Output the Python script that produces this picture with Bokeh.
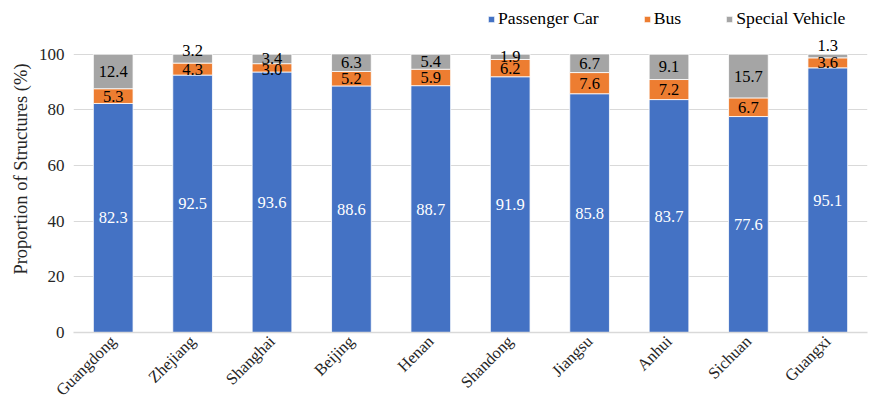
from math import pi
from bokeh.plotting import figure
from bokeh.models import ColumnDataSource, Range1d, FixedTicker, Legend, LegendItem, LabelSet
from bokeh.embed import file_html
from bokeh.resources import INLINE

provinces = ["Guangdong", "Zhejiang", "Shanghai", "Beijing", "Henan",
             "Shandong", "Jiangsu", "Anhui", "Sichuan", "Guangxi"]
passenger = [82.3, 92.5, 93.6, 88.6, 88.7, 91.9, 85.8, 83.7, 77.6, 95.1]
bus = [5.3, 4.3, 3.0, 5.2, 5.9, 6.2, 7.6, 7.2, 6.7, 3.6]
special = [12.4, 3.2, 3.4, 6.3, 5.4, 1.9, 6.7, 9.1, 15.7, 1.3]
series_names = ["Passenger Car", "Bus", "Special Vehicle"]
y_ticks = [0, 20, 40, 60, 80, 100]

colors = ["#4472C4", "#ED7D31", "#A5A5A5"]
label_colors = ["white", "black", "black"]
# manual nudges (pixels) of the small top labels, as in the original
special_label_nudge = [0, 8, 0, 0, 0, 0, 0, 0, 0, 11]
bus_label_nudge = [0, 0, -2, 0, 0, 0, 0, 0, 0, 0]

FONT = "Times"

p = figure(x_range=provinces, width=869, height=409,
           output_backend="svg", toolbar_location=None,
           min_border_left=73, min_border_right=2, min_border_top=5,
           min_border_bottom=76)
p.y_range = Range1d(0, 117.5)
p.outline_line_color = None
p.background_fill_color = "white"
p.border_fill_color = "white"

src = ColumnDataSource(dict(x=provinces, passenger=passenger, bus=bus, special=special))
rends = p.vbar_stack(["passenger", "bus", "special"], x="x", width=0.5,
                     source=src, color=colors, line_color="white", line_width=0.8)

# value labels
b0 = [0.0] * len(provinces)
b1 = passenger
b2 = [a + b for a, b in zip(passenger, bus)]
vals = [passenger, bus, special]
bottoms = [b0, b1, b2]
nudges = [[0] * len(provinces), bus_label_nudge, special_label_nudge]
for vlist, blist, col, nd in zip(vals, bottoms, label_colors, nudges):
    ls = ColumnDataSource(dict(x=provinces,
                               y=[b + v / 2 for b, v in zip(blist, vlist)],
                               t=[f"{v:.1f}" for v in vlist],
                               dy=nd))
    lab = LabelSet(x="x", y="y", text="t", source=ls, y_offset="dy",
                   text_align="center", text_baseline="middle",
                   text_font=FONT, text_font_size="16.5px", text_color=col)
    p.add_layout(lab)

legend = Legend(items=[LegendItem(label=n, renderers=[r]) for n, r in zip(series_names, rends)],
                orientation="horizontal")
legend.label_text_font = FONT
legend.label_text_font_size = "17.7px"
legend.label_text_color = "black"
legend.glyph_width = 8
legend.glyph_height = 8
legend.spacing = 44
legend.label_standoff = 3
legend.border_line_color = None
legend.background_fill_alpha = 0
legend.margin = 0
legend.padding = 4
legend.location = (414, 303)
p.add_layout(legend)

p.yaxis.ticker = FixedTicker(ticks=y_ticks)
p.yaxis.axis_line_color = None
p.yaxis.major_tick_line_color = None
p.yaxis.minor_tick_line_color = None
p.yaxis.major_label_text_font = FONT
p.yaxis.major_label_text_font_size = "17px"
p.yaxis.major_label_text_color = "#262626"
p.yaxis.major_label_standoff = 3
p.yaxis.axis_label = "Proportion of Structures (%)"
p.yaxis.axis_label_text_font = FONT
p.yaxis.axis_label_text_font_size = "18.5px"
p.yaxis.axis_label_text_font_style = "normal"
p.yaxis.axis_label_text_color = "#262626"
p.yaxis.axis_label_standoff = 5

p.xaxis.axis_line_color = "#D9D9D9"
p.xaxis.axis_line_width = 1.5
p.xaxis.major_tick_line_color = None
p.xaxis.minor_tick_line_color = None
p.xaxis.major_label_orientation = pi / 4
p.xaxis.major_label_text_font = FONT
p.xaxis.major_label_text_font_size = "16.5px"
p.xaxis.major_label_text_color = "#262626"
p.xaxis.major_label_standoff = 0

p.xgrid.grid_line_color = None
p.ygrid.grid_line_color = "#D9D9D9"
p.ygrid.grid_line_width = 1.2
p.x_range.range_padding = 0.0

open("out.html", "w").write(file_html(p, INLINE))
